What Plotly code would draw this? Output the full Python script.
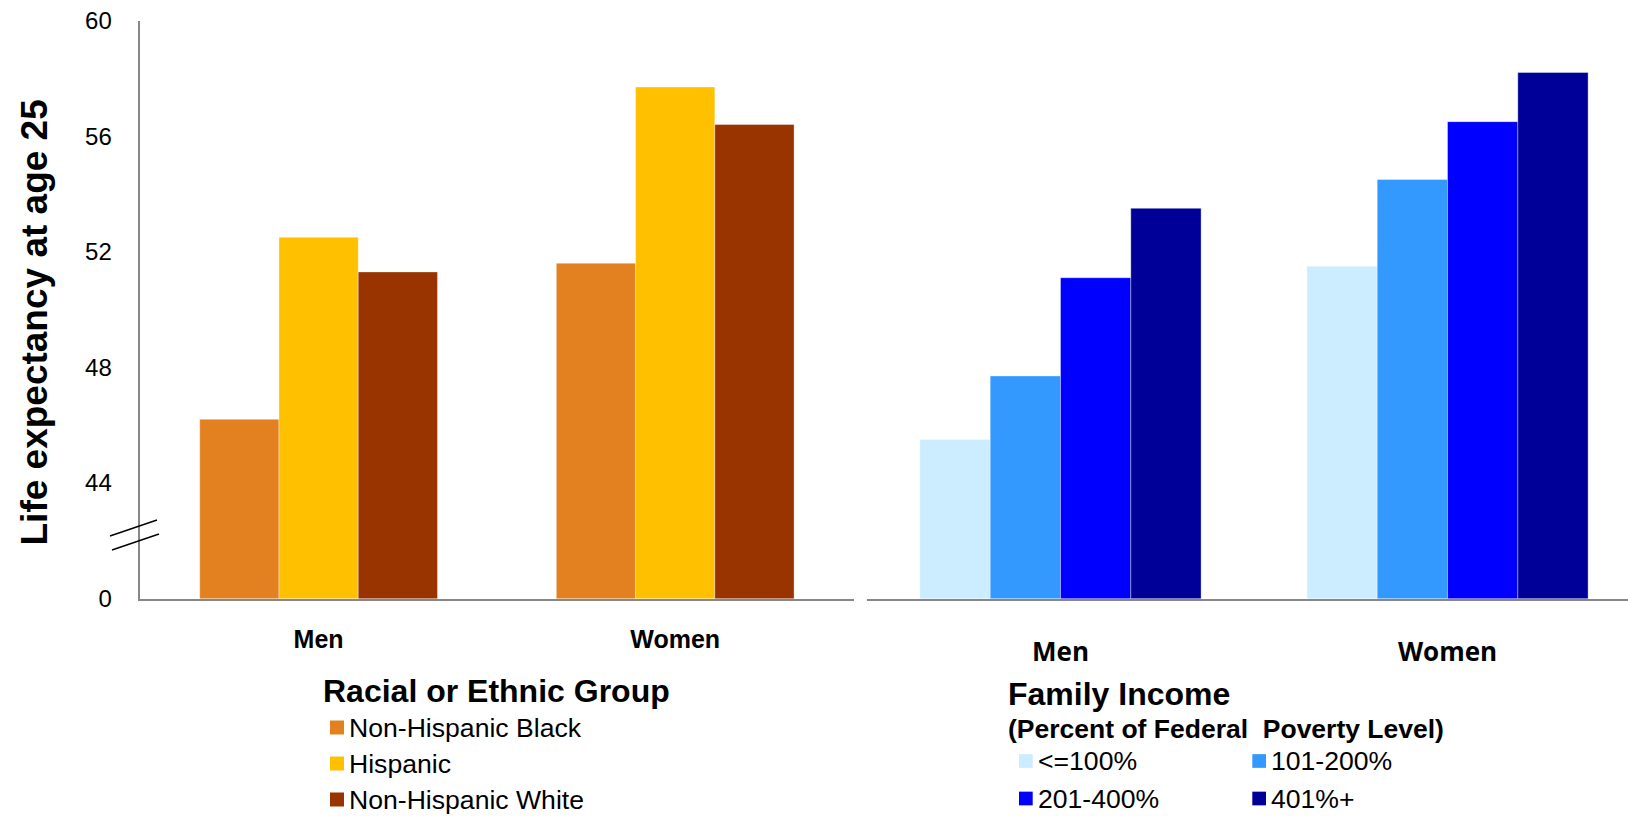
import plotly.graph_objects as go

W, H = 1628, 816

# ---------------- data ----------------
sexes = ["Men", "Women"]

race_groups = ["Non-Hispanic Black", "Hispanic", "Non-Hispanic White"]
nh_black = [46.2, 51.6]
hispanic = [52.5, 57.7]
nh_white = [51.3, 56.4]

income_groups = ["<=100%", "101-200%", "201-400%", "401%+"]
inc_le100 = [45.5, 51.5]
inc_101_200 = [47.7, 54.5]
inc_201_400 = [51.1, 56.5]
inc_401plus = [53.5, 58.2]

ytick_vals = [40, 44, 48, 52, 56, 60]
ytick_text = ["0", "44", "48", "52", "56", "60"]

race_colors = ["#E3801F", "#FFC000", "#993300"]
income_colors = ["#CCECFF", "#3399FF", "#0000FF", "#000099"]

ARIAL = "Liberation Sans, Arial, sans-serif"
CAL = "Open Sans, Calibri, sans-serif"


def px(x):
    return x / W


def py(y):
    return 1 - y / H


fig = go.Figure()

# left panel bars
n = len(race_groups)
grp = 0.6667
bw = grp / n
for i, (name, vals, col) in enumerate(zip(race_groups, [nh_black, hispanic, nh_white], race_colors)):
    fig.add_trace(go.Bar(
        x=sexes, y=vals, name=name, xaxis="x", yaxis="y",
        width=bw, offset=-grp / 2 + i * bw,
        marker=dict(color=col, line=dict(width=0.6, color="rgba(255,255,255,0.6)")),
        showlegend=False,
    ))

# right panel bars
m = len(income_groups)
grp2 = 0.7266
bw2 = grp2 / m
for j, (name, vals, col) in enumerate(zip(income_groups,
                                         [inc_le100, inc_101_200, inc_201_400, inc_401plus],
                                         income_colors)):
    fig.add_trace(go.Bar(
        x=sexes, y=vals, name=name, xaxis="x2", yaxis="y2",
        width=bw2, offset=-grp2 / 2 + j * bw2,
        marker=dict(color=col, line=dict(width=0.6, color="rgba(255,255,255,0.6)")),
        showlegend=False,
    ))

ydom = [py(598.5), py(20.5)]
axcol = "#878787"

annotations = []
shapes = []

# y axis title
annotations.append(dict(
    text="<b>Life expectancy at age 25</b>", textangle=-90,
    x=px(34), y=py(322.5), xref="paper", yref="paper",
    xanchor="center", yanchor="middle", showarrow=False,
    font=dict(family=ARIAL, size=37, color="black"),
))

# axis break marks
for (x0, y0, x1, y1) in [(110, 536, 157, 520), (112, 550, 159, 534)]:
    shapes.append(dict(type="line", xref="paper", yref="paper",
                       x0=px(x0), y0=py(y0), x1=px(x1), y1=py(y1),
                       line=dict(color="black", width=1.5)))

# left legend
annotations.append(dict(
    text="<b>Racial or Ethnic Group</b>", x=px(321), y=py(691),
    xref="paper", yref="paper", xanchor="left", yanchor="middle",
    showarrow=False, font=dict(family=ARIAL, size=32, color="black"),
))
for k, (name, col) in enumerate(zip(race_groups, race_colors)):
    cy = [727.5, 763.5, 799.5][k]
    shapes.append(dict(type="rect", xref="paper", yref="paper",
                       x0=px(330), x1=px(344), y0=py(cy + 7), y1=py(cy - 7),
                       fillcolor=col, line=dict(width=0)))
    annotations.append(dict(
        text=name, x=px(347), y=py(cy), xref="paper", yref="paper",
        xanchor="left", yanchor="middle", showarrow=False,
        font=dict(family=ARIAL, size=26.6, color="black"),
    ))

# right legend
annotations.append(dict(
    text="<b>Family Income</b>", x=px(1006), y=py(694),
    xref="paper", yref="paper", xanchor="left", yanchor="middle",
    showarrow=False, font=dict(family=ARIAL, size=32, color="black"),
))
annotations.append(dict(
    text="<b>(Percent of Federal  Poverty Level)</b>", x=px(1006), y=py(728.5),
    xref="paper", yref="paper", xanchor="left", yanchor="middle",
    showarrow=False, font=dict(family=ARIAL, size=26.5, color="black"),
))
pos = [(1019, 761), (1252.3, 761), (1019, 798.5), (1252.3, 798.5)]
for (sx, cy), name, col in zip(pos, income_groups, income_colors):
    shapes.append(dict(type="rect", xref="paper", yref="paper",
                       x0=px(sx), x1=px(sx + 13.7), y0=py(cy + 6.85), y1=py(cy - 6.85),
                       fillcolor=col, line=dict(width=0)))
    annotations.append(dict(
        text=name, x=px(sx + 17), y=py(cy), xref="paper", yref="paper",
        xanchor="left", yanchor="middle", showarrow=False,
        font=dict(family=ARIAL, size=26.6, color="black"),
    ))

fig.update_layout(
    width=W, height=H,
    margin=dict(l=0, r=0, t=0, b=0, pad=0),
    paper_bgcolor="white", plot_bgcolor="white",
    barmode="overlay",
    showlegend=False,
    xaxis=dict(domain=[px(140.3), px(853.5)], range=[-0.5, 1.5], type="category",
               anchor="y", showline=True, linecolor=axcol, linewidth=2, automargin=False,
               ticks="", showgrid=False, zeroline=False, ticklabelstandoff=17,
               tickfont=dict(family=ARIAL, size=25, color="black", weight="bold")),
    yaxis=dict(domain=ydom, range=[40, 60], anchor="x", automargin=False,
               tickvals=ytick_vals, ticktext=ytick_text,
               showline=True, linecolor=axcol, linewidth=1.5,
               ticks="", showgrid=False, zeroline=False, ticklabelstandoff=22,
               tickfont=dict(family=ARIAL, size=24, color="black")),
    xaxis2=dict(domain=[px(867), 1.0], range=[-0.5, 1.4664], type="category",
                anchor="y2", showline=True, linecolor=axcol, linewidth=2, automargin=False,
                ticks="", showgrid=False, zeroline=False, ticklabelstandoff=29,
                tickfont=dict(family=CAL, size=26, color="black", weight="bold")),
    yaxis2=dict(domain=ydom, range=[40, 60], anchor="x2", visible=False, automargin=False,
                showgrid=False, zeroline=False),
    annotations=annotations,
    shapes=shapes,
)

fig.write_html("out.html")
